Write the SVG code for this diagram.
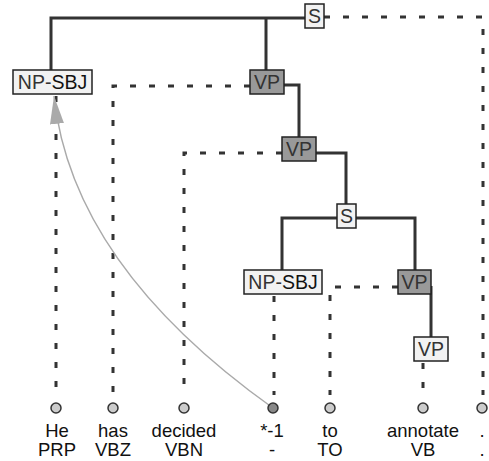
<svg xmlns="http://www.w3.org/2000/svg" width="489" height="461" viewBox="0 0 489 461">
<style>
.edge{fill:none;stroke:#333;stroke-width:3}
.dash{fill:none;stroke:#333;stroke-width:3;stroke-dasharray:6 13}
.box{stroke:#222;stroke-width:1.5}
.light{fill:#f2f2f2}
.dark{fill:#999}
.lbl{font-family:"Liberation Sans",Arial,sans-serif;font-size:19.5px;fill:#333;text-anchor:middle}
.word{font-family:"Liberation Sans",Arial,sans-serif;font-size:18.5px;fill:#111;text-anchor:middle}
.leaf{fill:#ccc;stroke:#333;stroke-width:1.5}
.trace{fill:none;stroke:#aaa;stroke-width:1.5}
</style>
<defs>
<marker id="ah" markerUnits="userSpaceOnUse" markerWidth="28" markerHeight="14" refX="28" refY="7" orient="auto" viewBox="0 0 28 14">
<path d="M0,0 L28,7 L0,14 Z" fill="#aaa"/>
</marker>
</defs>
<g id="connectors">
<path class="edge" d="M51,70 V18 H305"/>
<path class="edge" d="M266,18 V70"/>
<path class="edge" d="M284,85 H299 V137"/>
<path class="edge" d="M316,153 H346 V204"/>
<path class="edge" d="M337,218 H282 V270"/>
<path class="edge" d="M356,218 H415 V270"/>
<path class="edge" d="M431,286 V337"/>
<path class="dash" d="M324,17 H483 V395"/>
<path class="dash" d="M56,96 V395"/>
<path class="dash" d="M250,86 H113 V395"/>
<path class="dash" d="M282,153 H184 V395"/>
<path class="dash" d="M274,296 V395"/>
<path class="dash" d="M398,287 H330 V395"/>
<path class="dash" d="M423,363 V395"/>
<path class="trace" d="M273,408 Q72,265 54,96" marker-end="url(#ah)"/>
</g>
<g id="S1"><rect class="box light" x="305" y="4" width="19" height="24"/><text class="lbl" x="314.5" y="23">S</text></g>
<g id="NP-SBJ1"><rect class="box light" x="13" y="70" width="79" height="24"/><text class="lbl" x="52.5" y="89"><tspan>NP-</tspan><tspan fill="#111">SBJ</tspan></text></g>
<g id="VP1"><rect class="box dark" x="250" y="70" width="34" height="24"/><text class="lbl" x="267" y="89">VP</text></g>
<g id="VP2"><rect class="box dark" x="282" y="137" width="34" height="24"/><text class="lbl" x="299" y="156">VP</text></g>
<g id="S2"><rect class="box light" x="337" y="204" width="19" height="24"/><text class="lbl" x="346.5" y="223">S</text></g>
<g id="NP-SBJ2"><rect class="box light" x="244" y="270" width="78" height="24"/><text class="lbl" x="283" y="289"><tspan>NP-</tspan><tspan fill="#111">SBJ</tspan></text></g>
<g id="VP3"><rect class="box dark" x="398" y="270" width="33" height="24"/><text class="lbl" x="414.5" y="289">VP</text></g>
<g id="VP4"><rect class="box light" x="414" y="337" width="34" height="24"/><text class="lbl" x="431" y="356">VP</text></g>
<g id="w1"><circle class="leaf" cx="56" cy="408" r="5"/><text class="word" x="57" y="437">He</text><text class="word" x="57" y="456">PRP</text></g>
<g id="w2"><circle class="leaf" cx="113" cy="408" r="5"/><text class="word" x="113" y="437">has</text><text class="word" x="113" y="456">VBZ</text></g>
<g id="w3"><circle class="leaf" cx="184" cy="408" r="5"/><text class="word" x="184" y="437">decided</text><text class="word" x="184" y="456">VBN</text></g>
<g id="w4"><circle class="leaf" cx="273" cy="408" r="5" style="fill:#888"/><text class="word" x="272" y="437">*-1</text><text class="word" x="272" y="456">-</text></g>
<g id="w5"><circle class="leaf" cx="330" cy="408" r="5"/><text class="word" x="330" y="437">to</text><text class="word" x="330" y="456">TO</text></g>
<g id="w6"><circle class="leaf" cx="423" cy="408" r="5"/><text class="word" x="423" y="437">annotate</text><text class="word" x="423" y="456">VB</text></g>
<g id="w7"><circle class="leaf" cx="482" cy="408" r="5"/><text class="word" x="482" y="437">.</text><text class="word" x="482" y="456">.</text></g>
</svg>
